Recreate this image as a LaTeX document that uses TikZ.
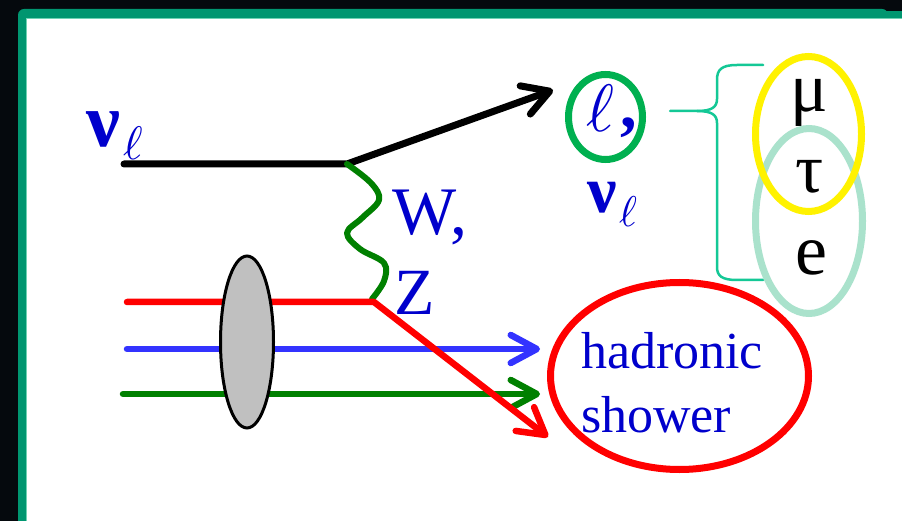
\documentclass[tikz,border=0pt]{standalone}
\usepackage{fontspec}
\setmainfont{Liberation Serif}
\usetikzlibrary{arrows.meta}
\definecolor{bgblack}{RGB}{5,9,13}
\definecolor{framegreen}{RGB}{0,150,112}
\definecolor{framelight}{RGB}{110,210,180}
\definecolor{textblue}{RGB}{0,0,204}
\definecolor{lineblue}{RGB}{51,51,255}
\definecolor{darkgreen}{RGB}{0,128,0}
\definecolor{circgreen}{RGB}{0,176,80}
\definecolor{bracecol}{RGB}{20,200,150}
\definecolor{mint}{RGB}{170,226,204}
\definecolor{ellgray}{RGB}{192,192,192}
\newcommand{\bigell}[1]{\scalebox{#1}{\fontsize{10}{10}\selectfont$\ell$}}
\begin{document}
\begin{tikzpicture}[x=1pt,y=-1pt,
  txt/.style={inner sep=0pt, outer sep=0pt},
  fline/.style={line width=#1, line cap=round, line join=round},
  barb/.style={-{Straight Barb[length=26pt,width=30pt,round]}}]
\useasboundingbox (0,0) rectangle (902,521);
% frame
\fill[bgblack] (0,0) rectangle (902,521);
\fill[framegreen, rounded corners=6pt] (18,9) rectangle (888,560);
\fill[framegreen] (870,11) rectangle (902,18);
\fill[white] (27,18) rectangle (902,521);
\draw[framelight, line width=1.2] (26.4,521) -- (26.4,18.6) -- (902,18.6);

% coordinates
\coordinate (nuStart) at (124,164);
\coordinate (vtx) at (347,164);
\coordinate (lepEnd) at (553,90);
\coordinate (qStart) at (127,302);
\coordinate (qVtx) at (374,302);
\coordinate (qEnd) at (548,437);
\coordinate (bStart) at (127,349);
\coordinate (bEnd) at (540,349);
\coordinate (gStart) at (123,394);
\coordinate (gEnd) at (540,394);

% neutrino line
\draw[fline=7, barb] (nuStart) -- (vtx) -- (lepEnd);
% boson
\draw[darkgreen, fline=6] plot[smooth, tension=0.6] coordinates {(347,164) (371,183) (379,200) (362,218) (347,233) (360,249) (384,263) (384,281) (372,299)};
% quark lines
\draw[lineblue, fline=6.5, -{Straight Barb[length=26pt,width=28pt,round]}] (bStart) -- (bEnd);
\draw[darkgreen, fline=6.5, -{Straight Barb[length=26pt,width=28pt,round]}] (gStart) -- (gEnd);
\draw[red, fline=6.5, -{Straight Barb[length=26pt,width=30pt,round]}] (qStart) -- (qVtx) -- (qEnd);
% proton blob
\draw[black, fill=ellgray, line width=3] (247,342) ellipse [x radius=26.5, y radius=86];

% lepton circle and brace
\draw[circgreen, line width=7] (605.5,117) ellipse [x radius=37, y radius=42.5];
\draw[bracecol, line width=2.5, line cap=round, line join=round]
  (763,65) -- (737,65) .. controls (721,65) and (717,70) .. (717,80) -- (717,99)
  .. controls (717,107) and (712,111) .. (697,111) -- (670,111);
\draw[bracecol, line width=2.5, line cap=round, line join=round]
  (697,111) .. controls (712,111) and (717,115) .. (717,123) -- (717,267)
  .. controls (717,276) and (722,280) .. (737,280) -- (763,280);
\draw[mint, line width=7] (809,221) ellipse [x radius=53.5, y radius=92.5];
\draw[yellow, line width=7] (808.5,134) ellipse [x radius=53, y radius=77.5];

% hadronic shower
\draw[red, line width=7] (679.5,376) ellipse [x radius=129, y radius=93.5];

% texts
\node[txt, anchor=base west, text=textblue, font=\fontsize{76}{76}\selectfont\bfseries] (nuIn) at (86,147) {ν};
\node[txt, anchor=base west, text=textblue] (nuInSub) at (123,160) {\bigell{4.7}};
\node[txt, anchor=base west, text=textblue] (lep) at (586,132) {\bigell{6.7}};
\node[txt, anchor=base west, text=textblue, font=\fontsize{66}{66}\selectfont\bfseries] (lepComma) at (620,128) {,};
\node[txt, anchor=base west, text=textblue, font=\fontsize{66}{66}\selectfont\bfseries] (nuOut) at (587,213) {ν};
\node[txt, anchor=base west, text=textblue] (nuOutSub) at (619,227) {\bigell{4.3}};
\node[txt, anchor=base west, text=textblue, font=\fontsize{68}{68}\selectfont] (W) at (392,235) {W,};
\node[txt, anchor=base west, text=textblue, font=\fontsize{66}{66}\selectfont] (Z) at (394,315) {Z};
\node[txt, anchor=base, font=\fontsize{70}{70}\selectfont] (mu) at (809,112) {μ};
\node[txt, anchor=base, font=\fontsize{70}{70}\selectfont] (tau) at (810,193) {τ};
\node[txt, anchor=base, font=\fontsize{72}{72}\selectfont] (e) at (811,275) {e};
\node[txt, anchor=base west, text=textblue, font=\fontsize{52}{52}\selectfont] (had) at (581,368) {hadronic};
\node[txt, anchor=base west, text=textblue, font=\fontsize{52}{52}\selectfont] (show) at (581,432) {shower};
\end{tikzpicture}
\end{document}
